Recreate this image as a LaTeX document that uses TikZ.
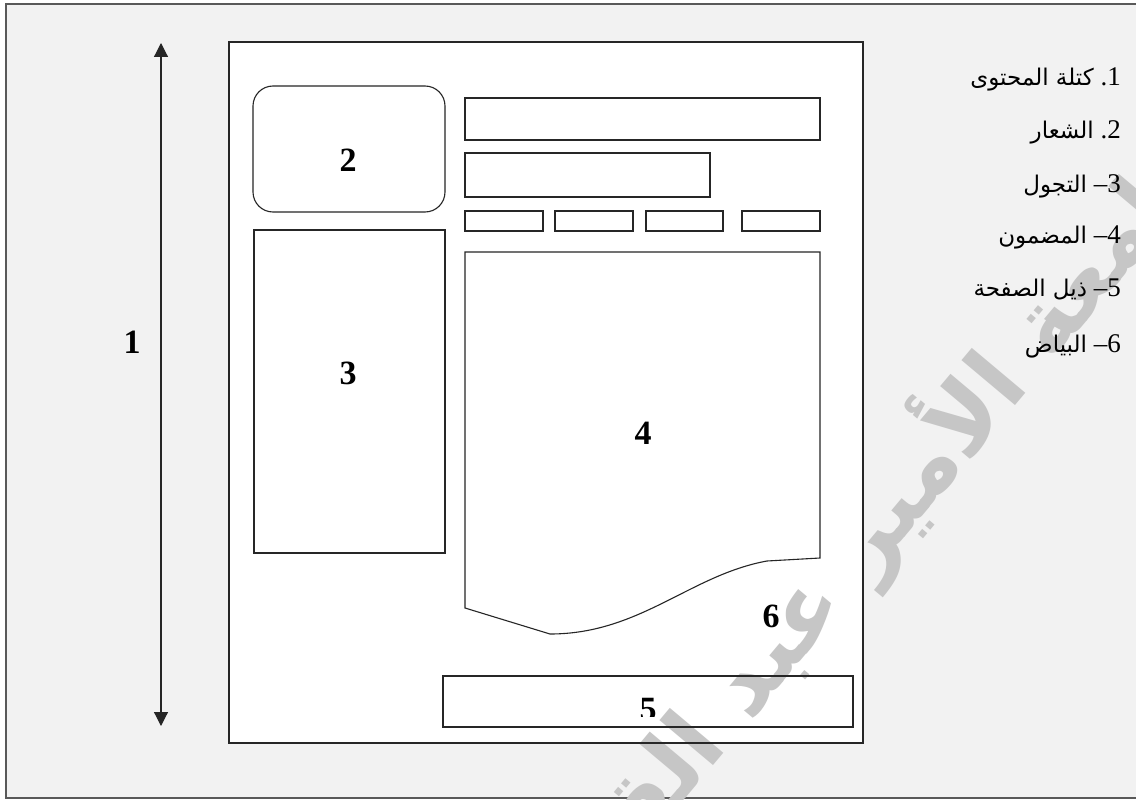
\documentclass[tikz,border=0pt]{standalone}
\usepackage{fontspec}
\setmainfont{Liberation Serif}
\newfontfamily\arabicfont[Script=Arabic]{DejaVu Sans}
\TeXXeTstate=1
\usetikzlibrary{arrows.meta}
\definecolor{bggray}{HTML}{F2F2F2}
\definecolor{wmgray}{HTML}{C6C6C6}
\begin{document}
\begin{tikzpicture}[x=1pt,y=-1pt,
  box/.style={draw=black!85, line width=1.1pt},
  num/.style={font=\bfseries\fontsize{34}{36}\selectfont, inner sep=0pt},
  leg/.style={font=\fontsize{27}{30}\selectfont, inner sep=0pt, anchor=base east},
  tip/.tip={Triangle[length=14pt,width=14pt]}
]
\newcommand\artxt[1]{{\arabicfont\fontsize{23}{26}\selectfont\beginR #1\endR}}
\useasboundingbox (0,0) rectangle (1136,800);
\begin{scope}
  \clip (0,0) rectangle (1136,800);
  \fill[white] (0,0) rectangle (1136,800);
  \draw[fill=bggray, draw=black!65, line width=1.5pt] (6,4) rectangle (1150,798);
  \fill[white] (229,42) rectangle (863,743);
  \node[text=wmgray, rotate=50, inner sep=0pt] (wm) at (865,535)
    {\arabicfont\bfseries\fontsize{92}{100}\selectfont\beginR جامعة الأمير عبد القادر\endR};
\end{scope}
% page
\draw[box] (229,42) rectangle (863,743);
% logo
\draw[box, rounded corners=20pt] (253,86) rectangle (445,212);
% navigation
\draw[box] (254,230) rectangle (445,553);
% header bars
\draw[box] (465,98) rectangle (820,140);
\draw[box] (465,153) rectangle (710,197);
\draw[box] (465,211) rectangle (543,231);
\draw[box] (555,211) rectangle (633,231);
\draw[box] (646,211) rectangle (723,231);
\draw[box] (742,211) rectangle (820,231);
% content
\draw[box] (465,252) -- (820,252) -- (820,558) -- (767,561)
  .. controls (690,575) and (640,634) .. (550,634) -- (465,608) -- cycle;
% footer
\draw[box] (443,676) rectangle (853,727);
% arrow
\coordinate (atop) at (161,43);
\coordinate (abot) at (161,726);
\draw[line width=1.2pt, black!85, tip-tip] (atop) -- (abot);
% numbers
\node[num] (n1) at (132,342) {1};
\node[num] (n2) at (348,160) {2};
\node[num] (n3) at (348,373) {3};
\node[num] (n4) at (643,433) {4};
\node[num] (n6) at (771,616) {6};
\begin{scope}
  \clip (443,676) rectangle (853,716);
  \node[num, anchor=north] (n5) at (648,698) {5};
\end{scope}
% legend
\node[leg] (l1) at (1121,85) {\artxt{كتلة المحتوى}\ .1};
\node[leg] (l2) at (1121,139) {\artxt{الشعار}\ .2};
\node[leg] (l3) at (1121,192) {\artxt{التجول}\ –3};
\node[leg] (l4) at (1121,243) {\artxt{المضمون}\ –4};
\node[leg] (l5) at (1121,296) {\artxt{ذيل الصفحة}\ –5};
\node[leg] (l6) at (1121,352) {\artxt{البياض}\ –6};
\end{tikzpicture}
\end{document}
